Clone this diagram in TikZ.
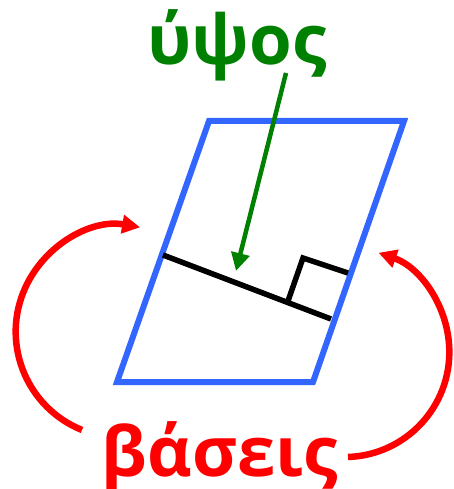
\documentclass[tikz,border=0pt]{standalone}
\usepackage{fontspec}
\setmainfont{Open Sans}
\usetikzlibrary{arrows.meta}
\definecolor{pblue}{RGB}{51,102,255}
\definecolor{pgreen}{RGB}{0,128,0}
\definecolor{pred}{RGB}{255,0,0}
\tikzset{
  pgram/.style={draw=pblue,line width=6pt,line join=miter},
  hline/.style={draw=black,line width=5.5pt},
  harrow/.style={draw=pgreen,line width=4.5pt,-{Triangle[length=18pt,width=18pt]}},
  barrow/.style={draw=pred,line width=6.5pt,-{Triangle[length=18pt,width=18pt]}},
  lbl/.style={font=\fontsize{69}{69}\selectfont\bfseries,inner sep=0pt,anchor=base}
}
\begin{document}
\begin{tikzpicture}[x=1pt,y=-1pt]
\useasboundingbox (0,0) rectangle (453,489);
% parallelogram
\coordinate (tl) at (209,121);
\coordinate (tr) at (404,121);
\coordinate (br) at (313,382);
\coordinate (bl) at (117,382);
\draw[pgram] (tl) -- (tr) -- (br) -- (bl) -- cycle;
% height
\coordinate (h1) at (163,255);
\coordinate (h2) at (331,319);
\coordinate (f) at (288,301);
\coordinate (q1) at (303,258);
\coordinate (q2) at (348,273);
\draw[hline] (h1) -- (h2);
\draw[hline,line join=miter] (f) -- (q1) -- (q2);
% labels
\node[lbl,text=pgreen] (ypsos) at (237,65) {ύψος};
\node[lbl,text=pred] (vaseis) at (220,476) {βάσεις};
% green arrow
\coordinate (gs) at (286,73);
\coordinate (gt) at (236,271);
\draw[harrow] (gs) -- (gt);
% red arcs
\coordinate (ls) at (82,430);
\draw[barrow] (ls) arc[start angle=112,end angle=280,radius=106];
\coordinate (rs) at (348,457);
\draw[barrow] (rs) arc[start angle=88,end angle=-71,radius=105];
\end{tikzpicture}
\end{document}
